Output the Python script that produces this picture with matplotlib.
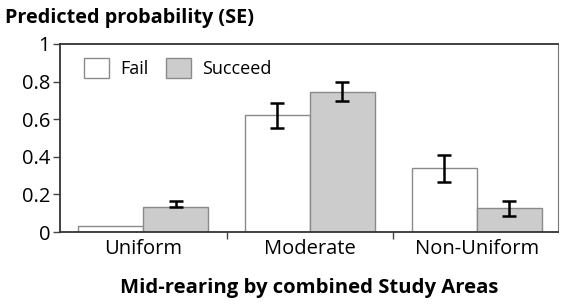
import numpy as np
import matplotlib.pyplot as plt

plt.rcParams['font.family'] = ['Open Sans', 'DejaVu Sans']

categories = ['Uniform', 'Moderate', 'Non-Uniform']
fail = [0.035, 0.62, 0.34]
succeed = [0.135, 0.745, 0.13]
fail_err_lo = [0.0, 0.065, 0.075]
fail_err_hi = [0.0, 0.065, 0.07]
succeed_err_lo = [0.0, 0.05, 0.045]
succeed_err_hi = [0.03, 0.055, 0.035]

fig = plt.figure(figsize=(5.63, 3.05), dpi=100)
ax = fig.add_axes([0.1066, 0.239, 0.885, 0.617])

x = np.arange(len(categories))
w = 0.39
ax.bar(x - w / 2, fail, w, color='white', edgecolor='#8a8a8a', linewidth=1.0, label='Fail')
ax.bar(x + w / 2, succeed, w, color='#cccccc', edgecolor='#8a8a8a', linewidth=1.0, label='Succeed')

# error bars (Uniform fail has none)
ax.errorbar(x[1:] - w / 2, fail[1:], yerr=[fail_err_lo[1:], fail_err_hi[1:]],
            fmt='none', ecolor='black', elinewidth=1.8, capsize=5, capthick=1.8)
ax.errorbar(x + w / 2, succeed, yerr=[succeed_err_lo, succeed_err_hi],
            fmt='none', ecolor='black', elinewidth=1.8, capsize=5, capthick=1.8)

ax.set_xlim(-0.5, 2.49)
ax.set_ylim(0, 1)
ax.set_yticks([0, 0.2, 0.4, 0.6, 0.8, 1])
ax.set_yticklabels(['0', '0.2', '0.4', '0.6', '0.8', '1'], fontsize=14.5)
ax.set_xticks(x)
ax.set_xticklabels(categories, fontsize=14.5)
ax.tick_params(axis='x', which='major', length=0, pad=5)
ax.set_xticks([0.5, 1.5], minor=True)
ax.tick_params(axis='x', which='minor', length=5, width=1.0, color='#444444')
ax.tick_params(axis='y', length=5, width=1.0, color='#444444', pad=2)

for side in ['left', 'bottom', 'top']:
    ax.spines[side].set_color('#333333')
    ax.spines[side].set_linewidth(1.3)
ax.spines['right'].set_color('#777777')
ax.spines['right'].set_linewidth(0.8)

ax.legend(loc='upper left', ncol=2, frameon=False, fontsize=13,
          handlelength=1.4, handleheight=1.3, columnspacing=1.0, handletextpad=0.6,
          bbox_to_anchor=(0.015, 1.01))

fig.text(0.009, 0.925, 'Predicted probability (SE)', fontsize=14.3, fontweight='bold')
ax.set_xlabel('Mid-rearing by combined Study Areas', fontsize=14.6, fontweight='bold', labelpad=14)

fig.savefig('out.png', dpi=100)
